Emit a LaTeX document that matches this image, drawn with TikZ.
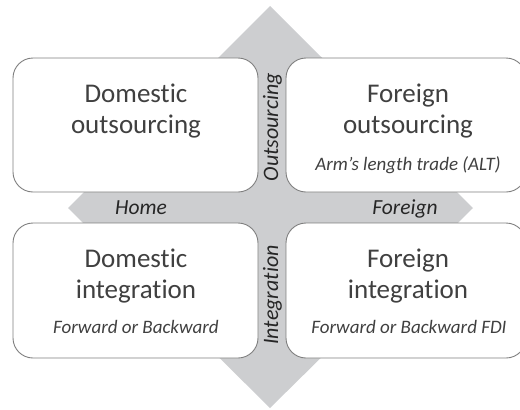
\documentclass[tikz,border=0pt]{standalone}
\usepackage{fontspec}
\setmainfont{Carlito}[Ligatures={NoCommon,NoRequired,NoContextual}]
\definecolor{txt}{HTML}{404040}
\definecolor{edge}{HTML}{7F7F7F}
\definecolor{band}{HTML}{CDCED0}
\begin{document}
\begin{tikzpicture}[x=1pt,y=-1pt,
  box/.style={draw=edge,line width=0.9pt,fill=white,rounded corners=20pt},
  big/.style={anchor=base,text=txt,font=\fontsize{27}{30}\selectfont,inner sep=0pt},
  small/.style={anchor=base,text=txt,font=\fontsize{19}{22}\selectfont\itshape,inner sep=0pt},
  axis/.style={anchor=base,text=black!85,font=\fontsize{21.5}{24}\selectfont\itshape,inner sep=0pt},
  vaxis/.style={anchor=base,rotate=90,text=black!85,font=\fontsize{22}{24}\selectfont\itshape,inner sep=0pt}]
\useasboundingbox (0,0) rectangle (520,410);
\clip (0,0) rectangle (520,410);
% background four-way diamond
\fill[band] (270,6) -- (473,208) -- (270,408) -- (68,208) -- cycle;
% boxes
\draw[box] (13,58) rectangle (258,192);
\draw[box] (286,58) rectangle (526,192);
\draw[box] (13,223) rectangle (258,358);
\draw[box] (286,223) rectangle (526,358);
% top-left
\node[big] (tla) at (136,102) {Domestic};
\node[big] (tlb) at (136,133) {outsourcing};
% top-right
\node[big] (tra) at (408,102) {Foreign};
\node[big] (trb) at (408,133) {outsourcing};
\node[small] (trc) at (408,170) {Arm’s length trade (ALT)};
% bottom-left
\node[big] (bla) at (136,267) {Domestic};
\node[big] (blb) at (136,298) {integration};
\node[small] (blc) at (136,333) {Forward or Backward};
% bottom-right
\node[big] (bra) at (408,267) {Foreign};
\node[big] (brb) at (408,298) {integration};
\node[small] (brc) at (409,333) {Forward or Backward FDI};
% axis labels
\node[axis] (home) at (141,214) {Home};
\node[axis] (forg) at (405,214) {Foreign};
\node[vaxis] (outs) at (278,127) {Outsourcing};
\node[vaxis] (inte) at (278,295) {Integration};
\end{tikzpicture}
\end{document}
